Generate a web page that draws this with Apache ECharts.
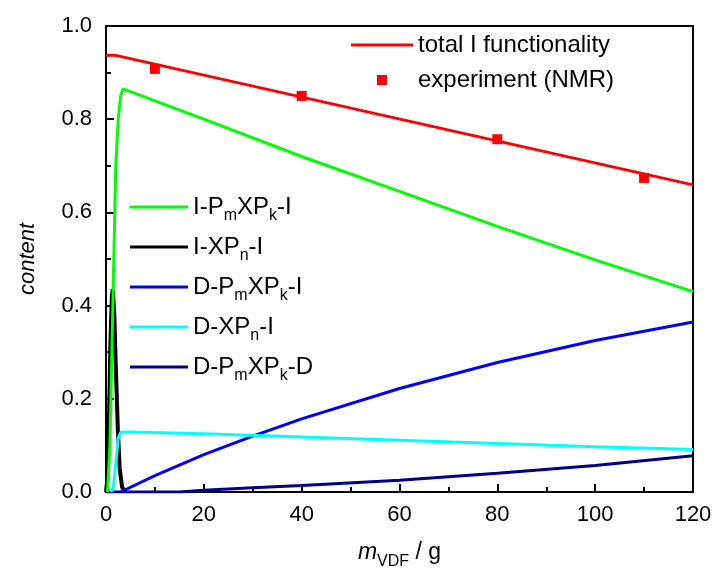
<!DOCTYPE html>
<html>
<head>
<meta charset="utf-8">
<script src="https://cdn.jsdelivr.net/npm/echarts@6/dist/echarts.min.js"></script>
<style>html,body{margin:0;padding:0;background:#fff;}#c{width:712px;height:569px;}</style>
</head>
<body>
<div id="c"></div>
<script>
// ---- data ----
var totalI = [[0,0.937],[2,0.937],[120,0.659]];
var nmrX = [10, 40, 80, 110];
var nmrY = [0.908, 0.850, 0.757, 0.674];
var iPXPi = [[0.3,0],[0.8,0.1],[1.2,0.3],[1.6,0.5],[2.0,0.7],[2.5,0.8],[3.0,0.85],[3.5,0.865],[20,0.80],[40,0.72],[60,0.645],[80,0.57],[100,0.498],[120,0.43]];
var iXPi = [[0,0],[0.3,0.03],[0.6,0.15],[0.9,0.32],[1.2,0.42],[1.4,0.435],[1.7,0.38],[2.0,0.27],[2.4,0.14],[2.8,0.05],[3.3,0.01],[4,0]];
var dPXPi = [[3,0],[10,0.035],[20,0.08],[30,0.12],[40,0.157],[60,0.222],[80,0.278],[100,0.325],[120,0.365]];
var dXPi = [[1.0,0],[1.5,0.01],[2.0,0.06],[2.5,0.115],[3,0.128],[5,0.129],[20,0.125],[40,0.118],[60,0.111],[80,0.104],[100,0.097],[120,0.091]];
var dPXPd = [[0,0],[15,0],[20,0.004],[30,0.009],[40,0.014],[60,0.025],[80,0.04],[100,0.057],[120,0.078]];
var xTicks = {min:0, max:120, interval:20};
var yTicks = {min:0, max:1.0, interval:0.2};

var FONT = '"Liberation Sans", Arial, sans-serif';
var names = ['I-PmXPk-I','I-XPn-I','D-PmXPk-I','D-XPn-I','D-PmXPk-D'];
var richNames = {
  'I-PmXPk-I':'I-P{s|m}XP{s|k}-I',
  'I-XPn-I':'I-XP{s|n}-I',
  'D-PmXPk-I':'D-P{s|m}XP{s|k}-I',
  'D-XPn-I':'D-XP{s|n}-I',
  'D-PmXPk-D':'D-P{s|m}XP{s|k}-D'
};
var chart = echarts.init(document.getElementById('c'), null, {renderer:'canvas'});
function lineS(name, data, color, w){
  return {name:name, type:'line', data:data, showSymbol:false, symbol:'none',
    lineStyle:{color:color, width:w||3}, itemStyle:{color:color}, animation:false};
}
var opt = {
  animation:false,
  backgroundColor:'#fff',
  grid:{left:106, right:19, top:26, bottom:77, outerBoundsMode:'none', containLabel:false,
    show:true, borderColor:'#000', borderWidth:2, backgroundColor:'transparent'},
  xAxis:{type:'value', min:xTicks.min, max:xTicks.max, interval:xTicks.interval,
    axisLine:{show:true, onZero:false, lineStyle:{color:'#000', width:2}},
    axisTick:{show:true, inside:true, length:8, lineStyle:{color:'#000', width:2}},
    minorTick:{show:true, splitNumber:2, length:5, lineStyle:{color:'#000', width:2}},
    splitLine:{show:false},
    axisLabel:{color:'#000', fontSize:22, fontFamily:FONT, margin:12},
    name:'{it|m}{s|VDF} / g', nameLocation:'middle', nameGap:44,
    nameTextStyle:{color:'#000', fontSize:23, fontFamily:FONT, lineHeight:34,
      rich:{it:{fontStyle:'italic', fontSize:23, fontFamily:FONT, color:'#000'}, s:{fontSize:16, fontFamily:FONT, lineHeight:14, verticalAlign:'bottom', color:'#000'}}}
  },
  yAxis:{type:'value', min:yTicks.min, max:yTicks.max, interval:yTicks.interval,
    axisLine:{show:true, onZero:false, lineStyle:{color:'#000', width:2}},
    axisTick:{show:true, inside:true, length:8, lineStyle:{color:'#000', width:2}},
    minorTick:{show:true, splitNumber:2, length:5, lineStyle:{color:'#000', width:2}},
    splitLine:{show:false},
    axisLabel:{color:'#000', fontSize:22, fontFamily:FONT, margin:14, formatter:function(v){return v.toFixed(1);}},
    name:'content', nameLocation:'middle', nameGap:67, nameRotate:90,
    nameTextStyle:{color:'#000', fontSize:22, fontStyle:'italic', fontFamily:FONT}
  },
  legend:[
    {data:[{name:'total I functionality', icon:'rect'}], left:351, top:33, orient:'vertical',
     itemWidth:62, itemHeight:3, itemGap:10, padding:0,
     textStyle:{color:'#000', fontSize:24, fontFamily:FONT}},
    {data:[{name:'experiment (NMR)', icon:'path://M0,0M62,10M26,0h10v10h-10z'}], left:351, top:68, orient:'vertical',
     itemWidth:62, itemHeight:10, padding:0,
     textStyle:{color:'#000', fontSize:24, fontFamily:FONT}},
    {data:names.map(function(n){return {name:n, icon:'rect'};}), left:130, top:190, orient:'vertical',
     itemWidth:58, itemHeight:3, itemGap:6, padding:0,
     formatter:function(n){return richNames[n];},
     textStyle:{color:'#000', fontSize:24, fontFamily:FONT, lineHeight:34,
       rich:{s:{fontSize:16, fontFamily:FONT, lineHeight:12, verticalAlign:'bottom', color:'#000'}}}}
  ],
  series:[
    lineS('total I functionality', totalI, '#ff0000'),
    {name:'experiment (NMR)', type:'scatter', symbol:'rect', symbolSize:10,
      data:nmrX.map(function(x,i){return [x, nmrY[i]];}), itemStyle:{color:'#ff0000', opacity:1}},
    lineS('I-XPn-I', iXPi, '#000000', 4),
    lineS('D-PmXPk-D', dPXPd, '#00008b'),
    lineS('D-PmXPk-I', dPXPi, '#0000ff'),
    lineS('D-XPn-I', dXPi, '#00ffff'),
    lineS('I-PmXPk-I', iPXPi, '#00ff00')
  ]
};
chart.setOption(opt);
</script>
</body>
</html>
